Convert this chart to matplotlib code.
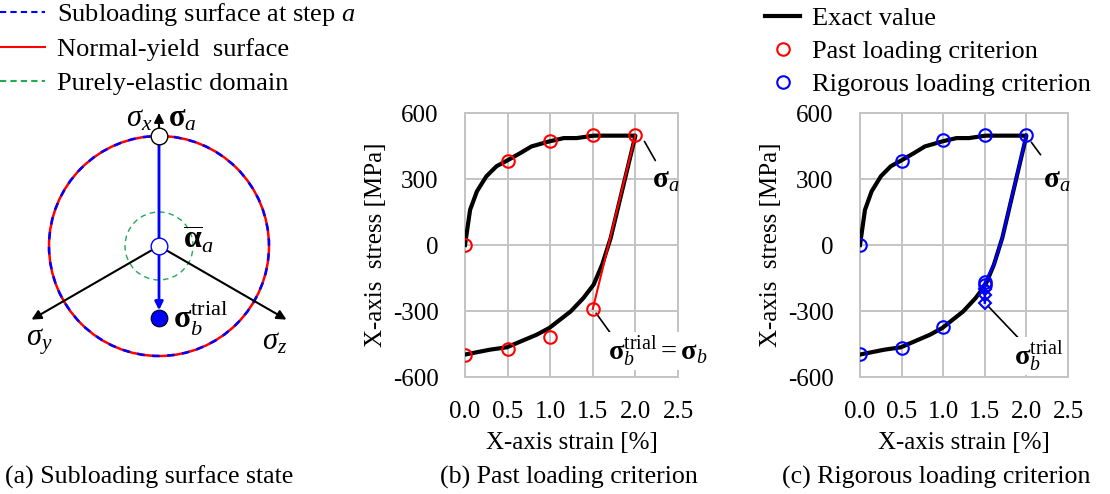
import numpy as np
import matplotlib
matplotlib.use("Agg")
import matplotlib.pyplot as plt
from matplotlib.lines import Line2D
from matplotlib.patches import Circle, FancyArrowPatch

plt.rcParams["font.family"] = "Liberation Serif"
plt.rcParams["mathtext.fontset"] = "custom"
plt.rcParams["mathtext.rm"] = "Liberation Serif"
plt.rcParams["mathtext.it"] = "Liberation Serif:italic"
plt.rcParams["mathtext.bf"] = "Liberation Serif:bold"
plt.rcParams["axes.unicode_minus"] = False

# exact stress-strain path: loading up to step a, then unloading
strain_exact = [0, 0.06, 0.14, 0.25, 0.37, 0.49, 0.65, 0.78, 0.99, 1.16, 1.31, 1.51, 2.0,
                1.71, 1.61, 1.51, 1.39, 1.24, 0.99, 0.84, 0.49, 0.29, 0]
stress_exact = [0, 160, 244, 312, 358, 383, 418, 448, 471, 486, 486, 497, 497,
                32, -89, -180, -241, -302, -377, -408, -465, -476, -498]

# past loading criterion
strain_past = [0, 0.5, 1.0, 1.5, 2.0, 1.5, 1.0, 0.5, 0]
stress_past = [0, 383, 471, 500, 500, -290, -418, -471, -498]

# rigorous loading criterion
strain_rig = [0, 0.5, 1.0, 1.5, 2.0, 1.5, 1.5, 1.0, 0.5, 0]
stress_rig = [0, 383, 475, 502, 502, -170, -182, -374, -466, -495]
# unloading path of the rigorous criterion and its trial states
strain_rig_path = [2.0, 1.71, 1.61, 1.5, 1.5]
stress_rig_path = [502, 32, -89, -170, -262]
strain_trial = [1.5, 1.5, 1.5]
stress_trial = [-200, -225, -262]

xticks = [0.0, 0.5, 1.0, 1.5, 2.0, 2.5]
yticks = [-600, -300, 0, 300, 600]

FS = 18
GRID = "#c4c4c4"

fig = plt.figure(figsize=(11.1, 4.94), dpi=100)


def style_axes(ax):
    ax.set_xlim(0, 2.5)
    ax.set_ylim(-600, 600)
    ax.set_xticks(xticks)
    ax.set_yticks(yticks)
    ax.set_xticklabels([f"{t:.1f}" for t in xticks])
    ax.tick_params(axis="x", length=0, labelsize=FS, pad=17)
    ax.tick_params(axis="y", length=0, labelsize=FS, pad=19)
    ax.grid(True, color=GRID, lw=1.4)
    for s in ax.spines.values():
        s.set_color(GRID)
        s.set_linewidth(1.4)
    ax.set_xlabel("X-axis strain [%]", fontsize=FS, labelpad=7)
    ax.set_ylabel("X-axis  stress [MPa]", fontsize=FS, labelpad=4)
    ax.set_axisbelow(True)


# (b) past loading criterion
axb = fig.add_axes([465 / 1110, 1 - 377 / 494, 213 / 1110, 264 / 494])
style_axes(axb)
axb.plot(strain_exact, stress_exact, color="black", lw=3.0, zorder=3)
axb.plot(strain_past[4:6], stress_past[4:6], color="red", lw=1.5, zorder=4)
axb.plot(strain_past, stress_past, ls="none", marker="o", ms=9, mfc="none",
         mec="red", mew=1.5, zorder=5)
axb.annotate("", xy=(2.09, 482), xytext=(2.25, 373),
             arrowprops=dict(arrowstyle="-", color="black", lw=1.2))
axb.text(2.2, 290, r"$\mathbf{\sigma}_a$", fontsize=FS + 3, va="center")
axb.annotate("", xy=(1.52, -300), xytext=(1.74, -418),
             arrowprops=dict(arrowstyle="-", color="black", lw=1.2))
axb.text(1.68, -482, r"$\mathbf{\sigma}_b^{\rm trial}=\mathbf{\sigma}_b$", fontsize=FS + 2.5,
         va="center", bbox=dict(fc="white", ec="none", pad=1), zorder=6)

# (c) rigorous loading criterion
axc = fig.add_axes([860 / 1110, 1 - 377 / 494, 208 / 1110, 264 / 494])
style_axes(axc)
axc.plot(strain_exact, stress_exact, color="black", lw=3.0, zorder=3)
axc.plot(strain_rig_path, stress_rig_path, color="blue", lw=1.8, zorder=4)
axc.plot(strain_rig, stress_rig, ls="none", marker="o", ms=9, mfc="none",
         mec="blue", mew=1.5, zorder=5)
axc.plot(strain_trial, stress_trial, ls="none", marker="D", ms=6, mfc="none",
         mec="blue", mew=1.5, zorder=5)
axc.annotate("", xy=(2.04, 477), xytext=(2.19, 400),
             arrowprops=dict(arrowstyle="-", color="black", lw=1.2))
axc.text(2.2, 290, r"$\mathbf{\sigma}_a$", fontsize=FS + 3, va="center")
axc.annotate("", xy=(1.52, -270), xytext=(1.95, -441),
             arrowprops=dict(arrowstyle="-", color="black", lw=1.2))
axc.text(1.85, -505, r"$\mathbf{\sigma}_b^{\rm trial}$", fontsize=FS + 2.5,
         va="center", bbox=dict(fc="white", ec="none", pad=1), zorder=6)

# (a) subloading surface sketch, drawn in pixel units
axa = fig.add_axes([0, 0, 1, 1], zorder=-1)
axa.set_xlim(0, 1110)
axa.set_ylim(494, 0)
axa.axis("off")

cx, cy, r = 159, 246, 110
r_el = 34
arm = 150
ang = np.radians(30)

axa.add_patch(Circle((cx, cy), r, fill=False, ec="red", lw=1.8))
axa.add_patch(Circle((cx, cy), r, fill=False, ec="blue", lw=1.8, ls=(0, (3, 3))))
axa.add_patch(Circle((cx, cy), r_el, fill=False, ec="#22aa55", lw=1.0, ls=(0, (4, 3))))

for dx, dy in [(0, -136), (-arm * np.cos(ang), arm * np.sin(ang)),
               (arm * np.cos(ang), arm * np.sin(ang))]:
    axa.add_patch(FancyArrowPatch((cx, cy), (cx + dx, cy + dy), arrowstyle="-|>",
                                  mutation_scale=14, color="black", lw=1.5))

axa.add_patch(FancyArrowPatch((cx, cy - r), (cx, cy + 67), arrowstyle="-|>",
                              mutation_scale=12, color="blue", lw=2.0, zorder=4))
axa.plot([cx], [cy - r], marker="o", ms=12, mfc="white", mec="black", mew=1.0, zorder=5)
axa.plot([cx], [cy], marker="o", ms=12, mfc="white", mec="blue", mew=1.0, zorder=5)
axa.plot([cx], [cy + 72], marker="o", ms=12, mfc="blue", mec="black", mew=0.8, zorder=5)

axa.text(cx - 7, 119, r"$\sigma_x$", fontsize=FS + 4, ha="right", va="center")
axa.text(cx + 9, 119, r"$\mathbf{\sigma}_a$", fontsize=FS + 4, ha="left", va="center")
axa.text(cx + 24, 240, r"$\overline{\mathbf{\alpha}}_a$", fontsize=FS + 5, ha="left", va="center")
axa.text(cx + 14, 318, r"$\mathbf{\sigma}_b^{\rm trial}$", fontsize=FS + 5, ha="left", va="center")
axa.text(26, 342, r"$\sigma_y$", fontsize=FS + 4, ha="left", va="center")
axa.text(262, 342, r"$\sigma_z$", fontsize=FS + 4, ha="left", va="center")

# legends
LFS = 19
h_a = [Line2D([], [], color="blue", lw=1.5, ls=(0, (3, 2))),
       Line2D([], [], color="red", lw=1.5),
       Line2D([], [], color="#22aa55", lw=1.5, ls=(0, (3, 2)))]
fig.legend(h_a, [r"Subloading surface at step $a$", "Normal-yield  surface",
                 "Purely-elastic domain"],
           loc="upper left", bbox_to_anchor=(0, 0.998), frameon=False, fontsize=LFS,
           borderaxespad=0, borderpad=0, handlelength=1.7, handletextpad=0.45,
           labelspacing=0.38)

h_c = [Line2D([], [], color="black", lw=3.0),
       Line2D([], [], ls="none", marker="o", ms=9, mfc="none", mec="red", mew=1.5),
       Line2D([], [], ls="none", marker="o", ms=9, mfc="none", mec="blue", mew=1.5)]
fig.legend(h_c, ["Exact value", "Past loading criterion", "Rigorous loading criterion"],
           loc="upper left", bbox_to_anchor=(765 / 1110, 0.986), frameon=False, fontsize=LFS,
           borderaxespad=0, borderpad=0, handlelength=1.33, handletextpad=0.45,
           labelspacing=0.36)

# captions
CFS = 18.6
fig.text(5 / 1110, 1 - 477 / 494, "(a) Subloading surface state", fontsize=CFS, va="center")
fig.text(440 / 1110, 1 - 477 / 494, "(b) Past loading criterion", fontsize=CFS, va="center")
fig.text(782 / 1110, 1 - 477 / 494, "(c) Rigorous loading criterion", fontsize=CFS, va="center")

fig.savefig("out.png", dpi=100)
